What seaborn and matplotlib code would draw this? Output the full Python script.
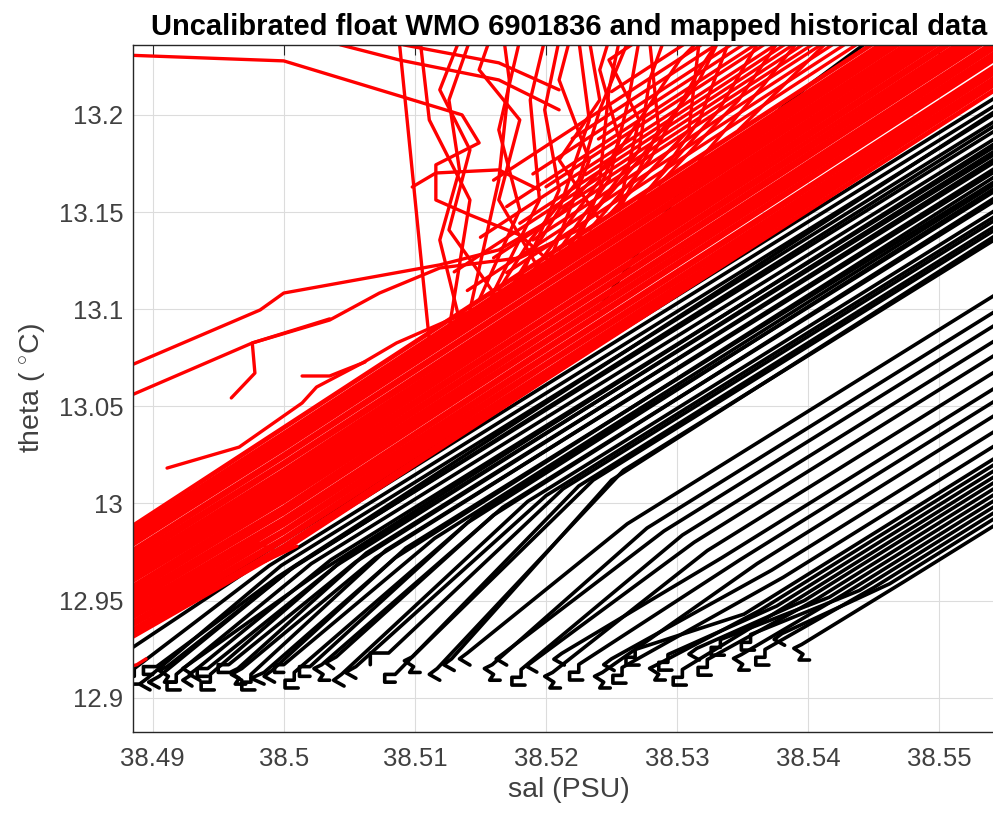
import matplotlib
matplotlib.use("Agg")
import matplotlib.pyplot as plt
import pandas as pd
import seaborn as sns

# ---------------- chart text ----------------
title = "Uncalibrated float WMO 6901836 and mapped historical data"
x_label = "sal (PSU)"
y_label = "theta ( $^{\\circ}$C)"
x_ticks = [38.49, 38.50, 38.51, 38.52, 38.53, 38.54, 38.55]
x_tick_labels = ["38.49", "38.5", "38.51", "38.52", "38.53", "38.54", "38.55"]
y_ticks = [12.90, 12.95, 13.00, 13.05, 13.10, 13.15, 13.20]
y_tick_labels = ["12.9", "12.95", "13", "13.05", "13.1", "13.15", "13.2"]
x_limits = [38.4885, 38.5550]
y_limits = [12.8825, 13.236]

# ---------------- historical (black) profiles: (sal, theta) ----------------
hist_profiles = [
    [(38.4855, 12.919), (38.4960, 12.964), (38.5600, 13.233)],
    [(38.4875, 12.915), (38.4868, 12.918), (38.4874, 12.921), (38.4975, 12.9665), (38.5600, 13.229)],
    [(38.4889, 12.907), (38.4879, 12.907), (38.4879, 12.911), (38.4886, 12.911), (38.4886, 12.915), (38.4989, 12.968), (38.5600, 13.225)],
    [(38.4898, 12.904), (38.4890, 12.907), (38.4896, 12.910), (38.4998, 12.968), (38.5600, 13.221)],
    [(38.4917, 12.908), (38.4909, 12.908), (38.4912, 12.911), (38.4905, 12.914), (38.4911, 12.916), (38.5009, 12.968), (38.5600, 13.216)],
    [(38.4921, 12.904), (38.4911, 12.904), (38.4911, 12.908), (38.4918, 12.908), (38.4918, 12.912), (38.5021, 12.969), (38.5600, 13.212)],
    [(38.4936, 12.909), (38.4928, 12.912), (38.4934, 12.915), (38.5036, 12.971), (38.5600, 13.208)],
    [(38.4947, 12.904), (38.4937, 12.904), (38.4937, 12.908), (38.4944, 12.908), (38.4944, 12.912), (38.5047, 12.972), (38.5600, 13.204)],
    [(38.4971, 12.907), (38.4963, 12.907), (38.4966, 12.910), (38.4959, 12.913), (38.4965, 12.915), (38.5063, 12.9745), (38.5600, 13.200)],
    [(38.4978, 12.904), (38.4968, 12.904), (38.4968, 12.908), (38.4975, 12.908), (38.4975, 12.912), (38.5078, 12.976), (38.5600, 13.195)],
    [(38.4993, 12.908), (38.4985, 12.911), (38.4991, 12.914), (38.5093, 12.977), (38.5600, 13.190)],
    [(38.5011, 12.905), (38.5001, 12.905), (38.5001, 12.909), (38.5008, 12.909), (38.5008, 12.913), (38.5151, 12.9964), (38.5600, 13.185)],
    [(38.5035, 12.909), (38.5027, 12.909), (38.5030, 12.912), (38.5023, 12.915), (38.5029, 12.917), (38.5167, 12.998), (38.5600, 13.180)],
    [(38.5046, 12.906), (38.5038, 12.909), (38.5044, 12.912), (38.5186, 13.001), (38.5600, 13.175)],
    [(38.5066, 12.917), (38.5066, 12.923), (38.5080, 12.923), (38.5213, 13.0075), (38.5600, 13.170)],
    [(38.5104, 12.913), (38.5096, 12.913), (38.5099, 12.916), (38.5092, 12.919), (38.5098, 12.921), (38.5236, 13.012), (38.5600, 13.165)],
    [(38.5119, 12.909), (38.5111, 12.912), (38.5117, 12.915), (38.5259, 13.017), (38.5600, 13.160)],
    [(38.4900, 12.912), (38.4893, 12.912), (38.4893, 12.916), (38.4903, 12.916), (38.4995, 12.962), (38.5600, 13.227)],
    [(38.4930, 12.906), (38.4923, 12.909), (38.4930, 12.912), (38.4923, 12.915), (38.5030, 12.966), (38.5600, 13.210)],
    [(38.4958, 12.913), (38.4950, 12.913), (38.4950, 12.917), (38.4958, 12.917), (38.5055, 12.970), (38.5600, 13.202)],
    [(38.4985, 12.907), (38.4975, 12.910), (38.4985, 12.913), (38.5085, 12.972), (38.5600, 13.193)],
    [(38.5020, 12.911), (38.5012, 12.911), (38.5012, 12.916), (38.5020, 12.916), (38.5140, 12.990), (38.5600, 13.187)],
    [(38.5038, 12.915), (38.5032, 12.918), (38.5040, 12.921), (38.5160, 12.994), (38.5600, 13.182)],
    [(38.4905, 12.905), (38.4897, 12.908), (38.4905, 12.911), (38.5005, 12.966), (38.5600, 13.219)],
    [(38.4942, 12.911), (38.4934, 12.911), (38.4934, 12.915), (38.4942, 12.915), (38.5040, 12.968), (38.5600, 13.206)],
    [(38.4968, 12.909), (38.4960, 12.912), (38.4968, 12.915), (38.5070, 12.972), (38.5600, 13.197)],
    [(38.5000, 12.913), (38.4993, 12.913), (38.4993, 12.917), (38.5000, 12.917), (38.5115, 12.982), (38.5600, 13.189)],
    [(38.5055, 12.910), (38.5047, 12.913), (38.5055, 12.916), (38.5200, 13.004), (38.5600, 13.172)],
    [(38.5085, 12.908), (38.5077, 12.908), (38.5077, 12.912), (38.5085, 12.912), (38.5225, 13.009), (38.5600, 13.167)],
    [(38.5130, 12.914), (38.5122, 12.917), (38.5128, 12.920), (38.5250, 13.012), (38.5600, 13.1625)],
    [(38.5142, 12.9168), (38.5134, 12.920), (38.5140, 12.923), (38.5262, 12.9895), (38.5600, 13.1315)],
    [(38.5165, 12.909), (38.5157, 12.909), (38.5160, 12.912), (38.5153, 12.915), (38.5159, 12.917), (38.5277, 12.9873), (38.5600, 13.123)],
    [(38.5170, 12.9168), (38.5162, 12.920), (38.5168, 12.923), (38.5290, 12.9858), (38.5600, 13.116)],
    [(38.5184, 12.9065), (38.5174, 12.9065), (38.5174, 12.9105), (38.5181, 12.9105), (38.5181, 12.9145), (38.5304, 12.9837), (38.5600, 13.108)],
    [(38.5193, 12.9132), (38.5185, 12.9162), (38.5191, 12.9192), (38.5313, 12.980), (38.5600, 13.1006)],
    [(38.5211, 12.905), (38.5203, 12.905), (38.5206, 12.908), (38.5199, 12.911), (38.5205, 12.913), (38.5323, 12.9757), (38.5600, 13.092)],
    [(38.5214, 12.9168), (38.5206, 12.9198), (38.5212, 12.9228), (38.5334, 12.972), (38.5600, 13.0836)],
    [(38.5228, 12.9091), (38.5218, 12.9091), (38.5218, 12.9131), (38.5225, 12.9131), (38.5225, 12.9171), (38.5348, 12.971), (38.5600, 13.077)],
    [(38.5249, 12.905), (38.5241, 12.905), (38.5244, 12.908), (38.5237, 12.911), (38.5243, 12.913), (38.5361, 12.969), (38.5600, 13.0697)],
    [(38.5252, 12.914), (38.5244, 12.917), (38.5250, 12.920), (38.5372, 12.9656), (38.5600, 13.0614)],
    [(38.5261, 12.9075), (38.5251, 12.9075), (38.5251, 12.9115), (38.5258, 12.9115), (38.5258, 12.9155), (38.5381, 12.962), (38.5600, 13.054)],
    [(38.5271, 12.9168), (38.5261, 12.9168), (38.5261, 12.9208), (38.5268, 12.9208), (38.5268, 12.9248), (38.5351, 12.943), (38.5600, 13.0475)],
    [(38.5291, 12.9091), (38.5283, 12.9091), (38.5286, 12.9121), (38.5279, 12.9151), (38.5285, 12.9171), (38.5363, 12.9449), (38.5600, 13.0444)],
    [(38.5296, 12.9142), (38.5286, 12.9142), (38.5286, 12.9182), (38.5293, 12.9182), (38.5293, 12.9222), (38.5376, 12.9472), (38.5600, 13.0413)],
    [(38.5307, 12.9065), (38.5297, 12.9065), (38.5297, 12.9105), (38.5304, 12.9105), (38.5304, 12.9145), (38.5387, 12.9487), (38.5600, 13.0382)],
    [(38.5317, 12.9194), (38.5309, 12.9224), (38.5315, 12.9254), (38.5397, 12.950), (38.5600, 13.0352)],
    [(38.5326, 12.9116), (38.5316, 12.9116), (38.5316, 12.9156), (38.5323, 12.9156), (38.5323, 12.9196), (38.5406, 12.9506), (38.5600, 13.0321)],
    [(38.5336, 12.9219), (38.5326, 12.9219), (38.5326, 12.9259), (38.5333, 12.9259), (38.5333, 12.9299), (38.5416, 12.9517), (38.5600, 13.029)],
    [(38.5355, 12.9142), (38.5347, 12.9142), (38.5350, 12.9172), (38.5343, 12.9202), (38.5349, 12.9222), (38.5427, 12.9532), (38.5600, 13.0259)],
    [(38.5359, 12.9245), (38.5349, 12.9245), (38.5349, 12.9285), (38.5356, 12.9285), (38.5356, 12.9325), (38.5439, 12.9552), (38.5600, 13.0228)],
    [(38.5370, 12.9168), (38.5360, 12.9168), (38.5360, 12.9208), (38.5367, 12.9208), (38.5367, 12.9248), (38.5450, 12.9567), (38.5600, 13.0197)],
    [(38.5382, 12.927), (38.5374, 12.930), (38.5380, 12.933), (38.5462, 12.9586), (38.5600, 13.0166)],
    [(38.5401, 12.9194), (38.5393, 12.9194), (38.5396, 12.9224), (38.5389, 12.9254), (38.5395, 12.9274), (38.5473, 12.9597), (38.5600, 13.013)],
    [(38.5240, 13.100), (38.5302, 13.160), (38.5400, 13.215), (38.5460, 13.245)],
]

# ---------------- float (red) profiles ----------------
# dense band: theta read at four salinities
red_band_sal = [38.485, 38.500, 38.520, 38.560]
red_band_theta = [
    [12.918, 12.976, 13.064, 13.238], [12.920, 12.978, 13.066, 13.241],
    [12.921, 12.981, 13.068, 13.243], [12.924, 12.982, 13.071, 13.244],
    [12.925, 12.985, 13.072, 13.247], [12.928, 12.986, 13.075, 13.249],
    [12.929, 12.989, 13.076, 13.250], [12.931, 12.991, 13.079, 13.254],
    [12.933, 12.992, 13.080, 13.255], [12.935, 12.995, 13.083, 13.257],
    [12.936, 12.997, 13.084, 13.260], [12.938, 12.998, 13.087, 13.261],
    [12.940, 13.001, 13.088, 13.263], [12.942, 13.003, 13.091, 13.266],
    [12.943, 13.005, 13.092, 13.268], [12.946, 13.007, 13.095, 13.270],
    [12.947, 13.009, 13.096, 13.272], [12.949, 13.011, 13.099, 13.274],
    [12.951, 13.013, 13.101, 13.277], [12.953, 13.015, 13.103, 13.278],
    [12.954, 13.017, 13.105, 13.281], [12.956, 13.020, 13.107, 13.283],
    [12.958, 13.021, 13.109, 13.285], [12.960, 13.024, 13.112, 13.287],
    [12.961, 13.025, 13.113, 13.290], [12.964, 13.028, 13.116, 13.291],
    [12.965, 13.030, 13.118, 13.294], [12.967, 13.032, 13.120, 13.296],
    [12.969, 13.034, 13.122, 13.298], [12.971, 13.036, 13.124, 13.300],
    [12.973, 13.039, 13.127, 13.303],
]
# upper parts above the band and wandering upper ends: (sal, theta)
red_upper = [
    [(38.517, 13.1188), (38.535, 13.198), (38.560, 13.308)],
    [(38.514, 13.1096), (38.535, 13.202), (38.560, 13.312)],
    [(38.519, 13.1356), (38.535, 13.206), (38.560, 13.316)],
    [(38.516, 13.1264), (38.535, 13.210), (38.560, 13.319)],
    [(38.521, 13.1514), (38.535, 13.213), (38.560, 13.322)],
    [(38.513, 13.1192), (38.535, 13.216), (38.560, 13.326)],
    [(38.518, 13.1442), (38.535, 13.219), (38.560, 13.330)],
    [(38.523, 13.1692), (38.535, 13.222), (38.560, 13.333)],
    [(38.515, 13.1370), (38.535, 13.225), (38.560, 13.336)],
    [(38.520, 13.1630), (38.535, 13.229), (38.560, 13.339)],
    [(38.517, 13.1528), (38.535, 13.232), (38.560, 13.342)],
    [(38.524, 13.1876), (38.535, 13.236), (38.560, 13.347)],
    [(38.519, 13.1696), (38.535, 13.240), (38.560, 13.351)],
    [(38.522, 13.1878), (38.535, 13.245), (38.560, 13.356)],
    [(38.516, 13.1664), (38.535, 13.250), (38.560, 13.361)],
    [(38.525, 13.2120), (38.535, 13.256), (38.560, 13.366)],
    [(38.4875, 13.2309), (38.5000, 13.2278), (38.5136, 13.2000), (38.5149, 13.1856), (38.5116, 13.1743),
     (38.5116, 13.1562), (38.5142, 13.1485), (38.5180, 13.1382), (38.5210, 13.1202)],
    [(38.4875, 13.0687), (38.4982, 13.0996), (38.5000, 13.1083), (38.5119, 13.1228), (38.5164, 13.1305),
     (38.5210, 13.1485), (38.5256, 13.1820), (38.5302, 13.2283), (38.5317, 13.2386)],
    [(38.4875, 13.0532), (38.4976, 13.0826), (38.5035, 13.0944), (38.5073, 13.1083), (38.5119, 13.1212),
     (38.5180, 13.1264), (38.5225, 13.1408), (38.5271, 13.1768), (38.5317, 13.2180), (38.5332, 13.2386)],
    [(38.4960, 13.0543), (38.4978, 13.0671), (38.4976, 13.0826), (38.5035, 13.0950)],
    [(38.4911, 13.0182), (38.4966, 13.0290), (38.5014, 13.0517), (38.5025, 13.0599), (38.5060, 13.0723),
     (38.5086, 13.0826), (38.5126, 13.0944), (38.5164, 13.1047), (38.5195, 13.1150)],
    [(38.5014, 13.0656), (38.5035, 13.0656), (38.5062, 13.0728)],
    [(38.5043, 13.2361), (38.5088, 13.2283), (38.5164, 13.2180), (38.5210, 13.2026)],
    [(38.5091, 13.2361), (38.5164, 13.2268), (38.5210, 13.2129)],
    [(38.5098, 13.1629), (38.5116, 13.1701), (38.5164, 13.1717), (38.5195, 13.1614)],
    [(38.5111, 13.0841), (38.5104, 13.1305), (38.5088, 13.2386)],
    [(38.5126, 13.0893), (38.5142, 13.1562), (38.5111, 13.1974), (38.5104, 13.2386)],
    [(38.5142, 13.0996), (38.5164, 13.1665), (38.5172, 13.2180), (38.5168, 13.2386)],
    [(38.5157, 13.1047), (38.5195, 13.1562), (38.5188, 13.2077), (38.5199, 13.2386)],
    [(38.5172, 13.1099), (38.5210, 13.1511), (38.5233, 13.1974), (38.5225, 13.2386)],
    [(38.5188, 13.1176), (38.5241, 13.1665), (38.5248, 13.2129), (38.5256, 13.2386)],
    [(38.5203, 13.1253), (38.5233, 13.1768), (38.5210, 13.2180), (38.5218, 13.2386)],
    [(38.5218, 13.1330), (38.5271, 13.1820), (38.5279, 13.2180), (38.5290, 13.2386)],
    [(38.5233, 13.1408), (38.5279, 13.1768), (38.5317, 13.2232), (38.5332, 13.2386)],
    [(38.5248, 13.1485), (38.5309, 13.1923), (38.5317, 13.2386)],
    [(38.5271, 13.1562), (38.5332, 13.2026), (38.5363, 13.2386)],
    [(38.5286, 13.1640), (38.5347, 13.2077), (38.5378, 13.2386)],
    [(38.5164, 13.1047), (38.5126, 13.1408), (38.5142, 13.1820), (38.5119, 13.2129), (38.5134, 13.2386)],
    [(38.5195, 13.1202), (38.5164, 13.1562), (38.5180, 13.1974), (38.5149, 13.2232), (38.5157, 13.2386)],
    [(38.5241, 13.1459), (38.5210, 13.1768), (38.5241, 13.2077), (38.5233, 13.2386)],
    [(38.5256, 13.1536), (38.5271, 13.1974), (38.5248, 13.2283), (38.5271, 13.2386)],
    [(38.5149, 13.1047), (38.5180, 13.1511), (38.5164, 13.1923), (38.5180, 13.2386)],
    [(38.5180, 13.1150), (38.5210, 13.1614), (38.5199, 13.2026), (38.5210, 13.2386)],
    [(38.5210, 13.1305), (38.5248, 13.1665), (38.5263, 13.2077), (38.5271, 13.2386)],
    [(38.5225, 13.1356), (38.5256, 13.1871), (38.5241, 13.2232), (38.5248, 13.2386)],
    [(38.5256, 13.1511), (38.5286, 13.1923), (38.5279, 13.2386)],
    [(38.5279, 13.1614), (38.5317, 13.1974), (38.5340, 13.2386)],
    [(38.5134, 13.0944), (38.5119, 13.1356), (38.5134, 13.1717), (38.5126, 13.2077), (38.5142, 13.2386)],
    [(38.5164, 13.1099), (38.5188, 13.1356), (38.5225, 13.1665), (38.5241, 13.2026), (38.5263, 13.2386)],
    [(38.5317, 13.1768), (38.5363, 13.2129), (38.5393, 13.2386)],
    [(38.5347, 13.1923), (38.5393, 13.2232), (38.5416, 13.2386)],
    [(38.4955, 12.968), (38.4980, 12.980), (38.4995, 12.9745), (38.4985, 12.970), (38.5010, 12.978)],
    [(38.4898, 12.9485), (38.4925, 12.950), (38.4905, 12.9555), (38.4935, 12.959)],
    [(38.4880, 12.9155), (38.4888, 12.9170), (38.4895, 12.9200)],
]


def to_frame(profiles):
    rows = []
    for pid, prof in enumerate(profiles):
        for order, (s, t) in enumerate(prof):
            rows.append({"pid": pid, "order": order, "sal": s, "theta": t})
    return pd.DataFrame(rows)


df_hist = to_frame(hist_profiles)
df_band = to_frame([list(zip(red_band_sal, th)) for th in red_band_theta])
df_upper = to_frame(red_upper)

# ---------------- styling ----------------
sns.set_theme(style="white")
plt.rcParams["font.family"] = ["Liberation Sans", "DejaVu Sans"]
plt.rcParams["mathtext.fontset"] = "custom"
plt.rcParams["mathtext.rm"] = "Liberation Sans"

fig = plt.figure(figsize=(9.93, 8.19), dpi=100)
ax = fig.add_axes([0.1339, 0.1066, 0.8781, 0.8385])

common = dict(x="sal", y="theta", units="pid", estimator=None, sort=False,
              legend=False, ax=ax)
sns.lineplot(data=df_hist, color="black", linewidth=2.6, **common)
sns.lineplot(data=df_band, color="#ff0000", linewidth=3.4, **common)
sns.lineplot(data=df_upper, color="#ff0000", linewidth=2.4, **common)

ax.set_xlim(*x_limits)
ax.set_ylim(*y_limits)
ax.set_xticks(x_ticks)
ax.set_xticklabels(x_tick_labels)
ax.set_yticks(y_ticks)
ax.set_yticklabels(y_tick_labels)

ax.grid(True, color="#dcdcdc", linewidth=0.8)
ax.set_axisbelow(True)
for sp in ax.spines.values():
    sp.set_color("#262626")
    sp.set_linewidth(1.0)

ax.tick_params(axis="both", direction="in", length=7, width=0.8,
               top=True, right=True, colors="#262626", labelsize=18.5)
ax.tick_params(axis="x", pad=11)
ax.tick_params(axis="y", pad=7)
for lab in ax.get_xticklabels() + ax.get_yticklabels():
    lab.set_color("#404040")

ax.set_xlabel(x_label, fontsize=20.5, color="#404040", labelpad=4)
ax.set_ylabel(y_label, fontsize=20.5, color="#404040", labelpad=8)
ax.set_title(title, fontsize=21, fontweight="bold", color="black", pad=7)

fig.savefig("out.png", dpi=100)
